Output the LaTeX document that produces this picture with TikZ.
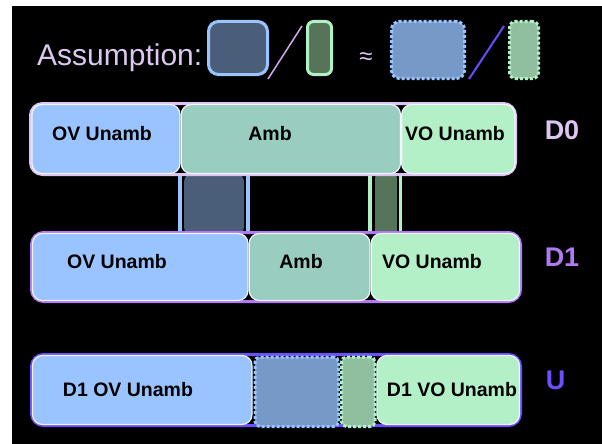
\documentclass[tikz,border=0pt]{standalone}
\usepackage{fontspec}
\setmainfont{Liberation Sans}
\usetikzlibrary{backgrounds}

\definecolor{ovfill}{HTML}{99C4FF}
\definecolor{ambfill}{HTML}{99CDBF}
\definecolor{vofill}{HTML}{B3EFC7}
\definecolor{segline}{HTML}{F2F4FF}
\definecolor{dzeroline}{HTML}{DCC5F2}
\definecolor{doneline}{HTML}{B07AF5}
\definecolor{uline}{HTML}{6B50FF}
\definecolor{ovdark}{HTML}{4A5E7A}
\definecolor{vodark}{HTML}{567459}
\definecolor{ovsoft}{HTML}{7799C8}
\definecolor{vosoft}{HTML}{8FBF9F}
\definecolor{headtext}{HTML}{DCC8F0}
\definecolor{slashA}{HTML}{D4A8F0}
\definecolor{slashB}{HTML}{6A4CFF}

% a rectangular node given by its corners: name, x1, y1, x2, y2, style
\newcommand\barpart[6]{%
  \node[#6, minimum width={(#4-#2)*1pt}, minimum height={(#5-#3)*1pt}]
    (#1) at ({(#2+#4)/2},{(#3+#5)/2}) {};}

\tikzset{
  part/.style={draw=segline, line width=1.2pt, rounded corners=10pt, inner sep=0pt, outer sep=0pt},
  barframe/.style={line width=3pt, rounded corners=12pt, inner sep=0pt, outer sep=0pt},
  softpart/.style={line width=3pt, dash pattern=on 3pt off 2pt, rounded corners=6pt, inner sep=0pt, outer sep=0pt},
  solidpart/.style={line width=3pt, inner sep=0pt, outer sep=0pt},
  gapbox/.style={inner sep=0pt, outer sep=0pt},
  link/.style={line width=3.5pt},
  segtext/.style={font=\fontsize{19.5}{22}\selectfont\bfseries, text=black, inner sep=0pt},
  rowlabel/.style={font=\fontsize{27}{30}\selectfont\bfseries, inner sep=0pt},
}

\begin{document}
\begin{tikzpicture}[x=1pt,y=-1pt]
\useasboundingbox (0,0) rectangle (602,444);
\begin{scope}[on background layer]
  \fill[white] (0,0) rectangle (602,444);
  \fill[black] (12,6) rectangle (602,444);
\end{scope}

% ---- assumption line ----
\node[anchor=base west, font=\fontsize{30}{34}\selectfont, text=headtext, inner sep=0pt]
  (assume) at (37,66) {Assumption:};
\barpart{solidov}{208.5}{21.5}{267.5}{74.5}{solidpart, draw=ovfill, fill=ovdark, rounded corners=10pt}
\barpart{solidvo}{307.5}{21.5}{331.5}{74.5}{solidpart, draw=vofill, fill=vodark, rounded corners=6pt}
\coordinate (slashAlow) at (268,79);
\coordinate (slashAhigh) at (302,26);
\draw[slashA, line width=1.5pt] (slashAlow) -- (slashAhigh);
\node[font=\fontsize{24}{28}\selectfont, text=headtext, inner sep=0pt] (approx) at (366,59) {≈};
\barpart{softov}{391.5}{21.5}{464.5}{78.5}{softpart, draw=ovfill, fill=ovsoft, rounded corners=8pt}
\barpart{softvo}{509.5}{21.5}{538.5}{78.5}{softpart, draw=vofill, fill=vosoft}
\coordinate (slashBlow) at (469,79);
\coordinate (slashBhigh) at (504,26);
\draw[slashB, line width=2pt] (slashBlow) -- (slashBhigh);

% ---- D0 ----
\barpart{dzerobar}{30.5}{103.5}{515.5}{174.5}{barframe, draw=dzeroline}
\barpart{dzeroov}{32}{104.5}{180}{173.5}{part, fill=ovfill}
\barpart{dzeroamb}{181.2}{104.5}{400.5}{173.5}{part, fill=ambfill}
\barpart{dzerovo}{401.7}{104.5}{515}{173.5}{part, fill=vofill}
\node[segtext] (tzeroov) at (102,134) {OV Unamb};
\node[segtext] (tzeroamb) at (270,134) {Amb};
\node[segtext] (tzerovo) at (455,134) {VO Unamb};
\node[rowlabel, text=dzeroline] (lzero) at (562,130) {D0};

% ---- D1 ----
\barpart{donebar}{31.5}{232.5}{520.5}{301.5}{barframe, draw=doneline}
\barpart{doneov}{32.5}{233.5}{248}{300.5}{part, fill=ovfill}
\barpart{doneamb}{249.2}{233.5}{370}{300.5}{part, fill=ambfill}
\barpart{donevo}{371.2}{233.5}{519.5}{300.5}{part, fill=vofill}
\node[segtext] (toneov) at (117,262) {OV Unamb};
\node[segtext] (toneamb) at (301,262) {Amb};
\node[segtext] (tonevo) at (432,262) {VO Unamb};
\node[rowlabel, text=doneline] (lone) at (562,257) {D1};

% ---- U ----
\barpart{ubar}{31.5}{354.5}{520.5}{425.5}{barframe, draw=uline}
\barpart{uov}{32.5}{355.5}{252}{424.5}{part, fill=ovfill}
\barpart{uvo}{377}{355.5}{519.5}{424.5}{part, fill=vofill}
\barpart{usoftov}{255}{357}{338.5}{426.5}{softpart, draw=ovfill, fill=ovsoft, rounded corners=5pt}
\barpart{usoftvo}{341.5}{357}{375}{426.5}{softpart, draw=vofill, fill=vosoft, rounded corners=5pt}
\node[segtext] (tuov) at (128,390) {D1 OV Unamb};
\node[segtext] (tuvo) at (452,390) {D1 VO Unamb};
\node[rowlabel, text=uline] (lu) at (555.5,380) {U};

% ---- shifts between D0 and D1 ----
\begin{scope}[on background layer]
  \barpart{ovgap}{184}{173}{244}{236}{gapbox, fill=ovdark, rounded corners=9pt}
  \barpart{vogap}{375}{173}{397}{236}{gapbox, fill=vodark, rounded corners=5pt}
  \draw[link, ovfill] (dzeroov.south east) -- (dzeroov.south east |- donebar.north);
  \draw[link, ovfill] (doneov.north east) -- (doneov.north east |- dzerobar.south);
  \draw[link, vofill] (doneamb.north east) -- (doneamb.north east |- dzerobar.south);
  \draw[link, vofill] (dzeroamb.south east) -- (dzeroamb.south east |- donebar.north);
\end{scope}
\end{tikzpicture}
\end{document}
